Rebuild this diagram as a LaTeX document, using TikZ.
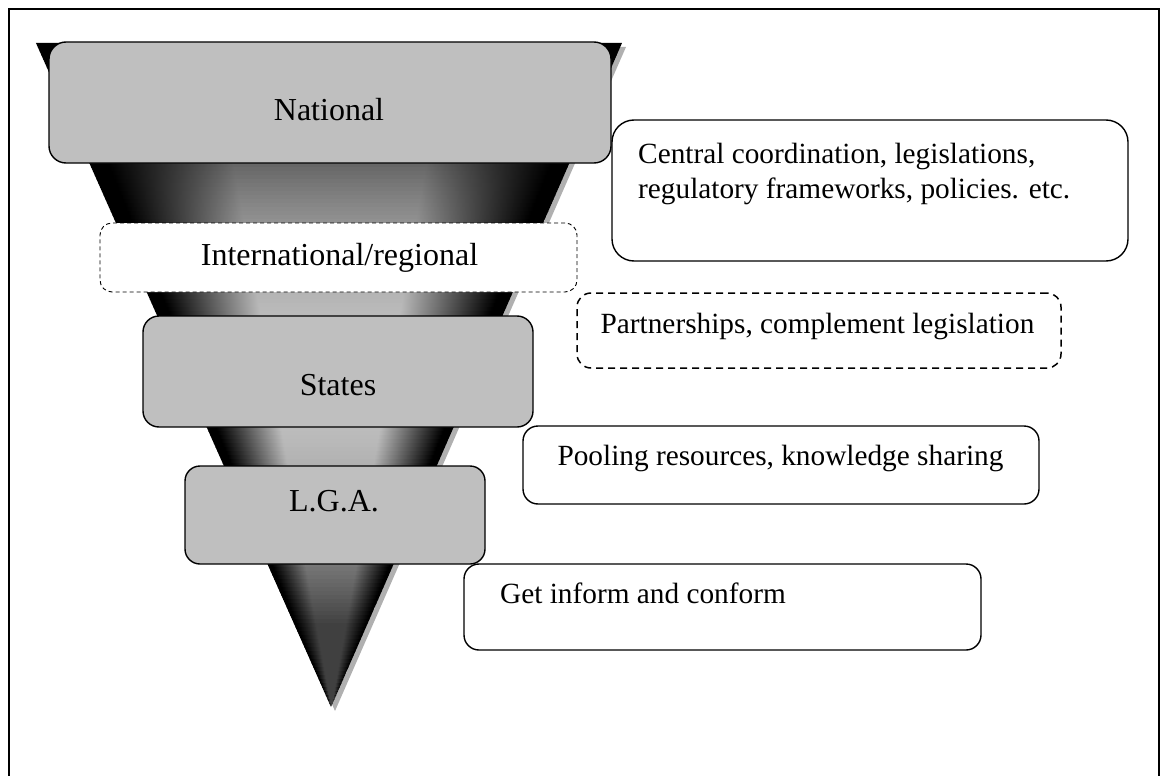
\documentclass[tikz,border=0pt]{standalone}
\usepackage{fontspec}
\setmainfont{Liberation Serif}

% band shading across the funnel: dark rims, lighter centre
% (a path's bounding box covers the 25bp..75bp part of the shading)
\pgfdeclarehorizontalshading[conemid]{coneband}{100bp}{%
  color(0bp)=(black); color(27bp)=(black); color(40bp)=(conemid);
  color(60bp)=(conemid); color(73bp)=(black); color(100bp)=(black)}

\definecolor{boxgray}{gray}{0.75}
\colorlet{conemid}{gray}

\tikzset{
  tierbox/.style={draw=black, line width=1.4pt, fill=boxgray, rounded corners=16pt,
    inner sep=0pt, minimum width=#1},
  notebox/.style={draw=black, line width=1.4pt, fill=white, rounded corners=16pt,
    inner sep=0pt, minimum width=#1},
  tierlabel/.style={inner sep=0pt, anchor=base, font=\fontsize{32}{38}\selectfont},
  notelabel/.style={inner sep=0pt, font=\fontsize{29.3}{35}\selectfont},
}

\begin{document}
\begin{tikzpicture}[x=1pt, y=-1pt]
\useasboundingbox (0,0) rectangle (1165,776);

% page frame, open at the bottom
\draw[line width=2pt] (9,776) -- (9,9) -- (1159,9) -- (1159,776);

% funnel drop shadow
\fill[gray!62] (40,47) -- (626,47) -- (335,711) -- cycle;

% funnel body, built from shaded horizontal bands
\foreach \i in {0,...,165} {
  \pgfmathsetmacro{\ya}{43+4*\i}
  \pgfmathsetmacro{\yb}{min(707,\ya+4.6)}
  \pgfmathsetmacro{\hwa}{0.441265*(707-\ya)}
  \pgfmathsetmacro{\hwb}{max(0,0.441265*(707-\yb))}
  \pgfmathsetmacro{\ca}{329+0.003012*(\ya-43)}
  \pgfmathsetmacro{\cb}{329+0.003012*(\yb-43)}
  \pgfmathsetmacro{\tv}{((\ya+\yb)/2-375)/210}
  \pgfmathsetmacro{\gv}{100*max(0.25,0.76-0.36*\tv*\tv)}
  \colorlet{conemid}{white!\gv!black}
  \shade[shading=coneband] (\ca-\hwa,\ya) -- (\ca+\hwa,\ya)
     -- (\cb+\hwb,\yb) -- (\cb-\hwb,\yb) -- cycle;
}

% tiers and their notes
\node[tierbox=562pt, minimum height=121pt, rounded corners=17pt] (national) at (330,102.5) {};
\node[notebox=516pt, minimum height=141pt, rounded corners=22pt] (central) at (870,190.5) {};
\node[notebox=477pt, minimum height=69pt, line width=0.9pt, dash pattern=on 4pt off 3pt,
      rounded corners=12pt] (intl) at (338.5,257.5) {};
\node[notebox=484pt, minimum height=75pt, line width=1.5pt, dash pattern=on 7pt off 5pt,
      rounded corners=14pt] (partner) at (819,330.5) {};
\node[tierbox=390pt, minimum height=111pt] (states) at (338,371.5) {};
\node[notebox=516pt, minimum height=78pt, rounded corners=15pt] (pooling) at (781,465) {};
\node[tierbox=300pt, minimum height=98pt, rounded corners=15pt] (lga) at (335,515) {};
\node[notebox=517pt, minimum height=86pt, rounded corners=15pt] (getinf) at (722.5,607) {};

% labels
\node[tierlabel] (nationaltxt) at (329,121) {National};
\node[tierlabel] (intltxt) at (339.5,265) {International/regional};
\node[tierlabel] (statestxt) at (338,395) {States};
\node[tierlabel] (lgatxt) at (334,511) {L.G.A.};

\node[notelabel, anchor=base west] (centraltxt) at (638,163)
  {\vtop{\baselineskip=35pt\hbox{Central coordination, legislations,}\hbox{regulatory frameworks, policies. etc.}}};
\node[notelabel, anchor=base] (partnertxt) at (817.5,333) {Partnerships, complement legislation};
\node[notelabel, anchor=base] (poolingtxt) at (780.5,465) {Pooling resources, knowledge sharing};
\node[notelabel, anchor=base west] (getinftxt) at (500,603) {Get inform and conform};
\end{tikzpicture}
\end{document}
